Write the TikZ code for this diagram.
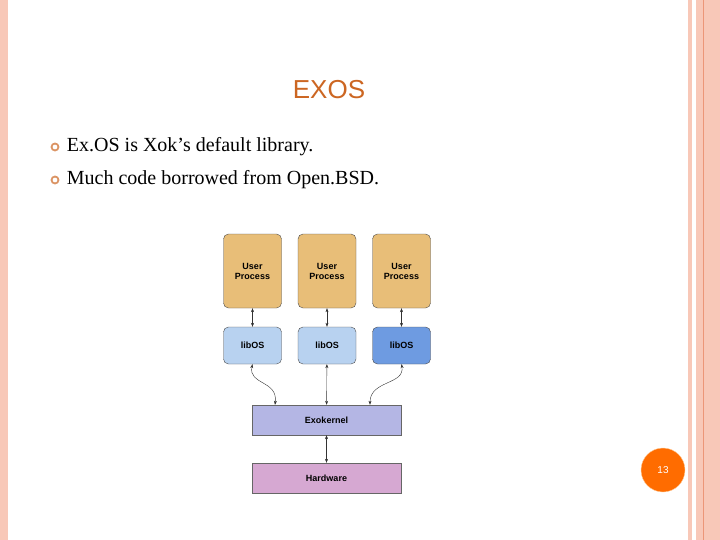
\documentclass[tikz,border=0pt]{standalone}
\usepackage{fontspec}
\setmainfont{Liberation Serif}
\newfontfamily\sansfont{Liberation Sans}
\usetikzlibrary{positioning,arrows.meta}
\definecolor{framepink}{RGB}{248,200,184}
\definecolor{frameline}{RGB}{236,150,120}
\definecolor{titleorange}{RGB}{204,102,34}
\definecolor{userfill}{RGB}{232,190,120}
\definecolor{libfill}{RGB}{184,210,240}
\definecolor{libdark}{RGB}{110,155,225}
\definecolor{exofill}{RGB}{180,182,228}
\definecolor{hwfill}{RGB}{214,168,210}
\tikzset{
  proc box/.style={
    fill=#1,
    draw=black!70,
    rounded corners=5pt,
    minimum width=58pt,
    font=\sansfont\bfseries\fontsize{9}{10}\selectfont,
    align=center,
  },
  layer box/.style={
    fill=#1,
    draw=black!60,
    minimum width=149pt,
    minimum height=30pt,
    font=\sansfont\bfseries\fontsize{9}{10}\selectfont,
  },
  link/.style={
    {Stealth[length=4pt]}-{Stealth[length=4pt]},
    draw=black!80,
    thin,
  },
  bullet/.style={
    circle,
    draw=titleorange!70,
    line width=1.8pt,
    inner sep=0pt,
    minimum size=7pt,
  },
  item/.style={
    anchor=west,
    font=\fontsize{20}{22}\selectfont,
  }
}
\begin{document}
\begin{tikzpicture}[x=1pt,y=-1pt]
        \useasboundingbox (0,0) rectangle (720,540);
        % slide frame
        \fill [framepink] (0,0) rectangle (8,540);
        \fill [framepink] (688,0) rectangle (692,540);
        \fill [framepink] (696,0) rectangle (720,540);
        \draw [frameline] (703,0) -- (703,540);

        \node [text=titleorange, font=\sansfont\fontsize{26}{28}\selectfont] (title) at (329,90) {EXOS};

        \node [bullet] (b1) at (55,147) {};
        \node [item, right=4pt of b1] (t1) {Ex.OS is Xok's default library.};
        \node [bullet] (b2) at (55,180) {};
        \node [item, right=4pt of b2] (t2) {Much code borrowed from Open.BSD.};

        % processes
        \node [proc box=userfill, minimum height=74pt] (u1) at (252.5,271) {User\\Process};
        \node [proc box=userfill, minimum height=74pt] (u2) at (327,271) {User\\Process};
        \node [proc box=userfill, minimum height=74pt] (u3) at (401.5,271) {User\\Process};

        \node [proc box=libfill, minimum height=37pt] (l1) at (252.5,345.5) {libOS};
        \node [proc box=libfill, minimum height=37pt] (l2) at (327,345.5) {libOS};
        \node [proc box=libdark, minimum height=37pt] (l3) at (401.5,345.5) {libOS};

        \node [layer box=exofill] (exo) at (326.5,420) {Exokernel};
        \node [layer box=hwfill] (hw) at (326.5,478) {Hardware};

        \draw [link] (u1) -- (l1);
        \draw [link] (u2) -- (l2);
        \draw [link] (u3) -- (l3);
        \draw [link] (l1.south) .. controls (248,385) and (278,380) .. (exo.north west -| 275,0);
        \draw [link] (l2) -- (exo);
        \draw [link] (l3.south) .. controls (405,385) and (370,380) .. (exo.north west -| 370,0);
        \draw [link] (exo) -- (hw);

        \node [circle, fill=orange!85!red, draw=orange!40, minimum size=44pt,
               text=white, font=\sansfont\fontsize{10}{12}\selectfont] (page) at (663,470) {13};
      \end{tikzpicture}
\end{document}
